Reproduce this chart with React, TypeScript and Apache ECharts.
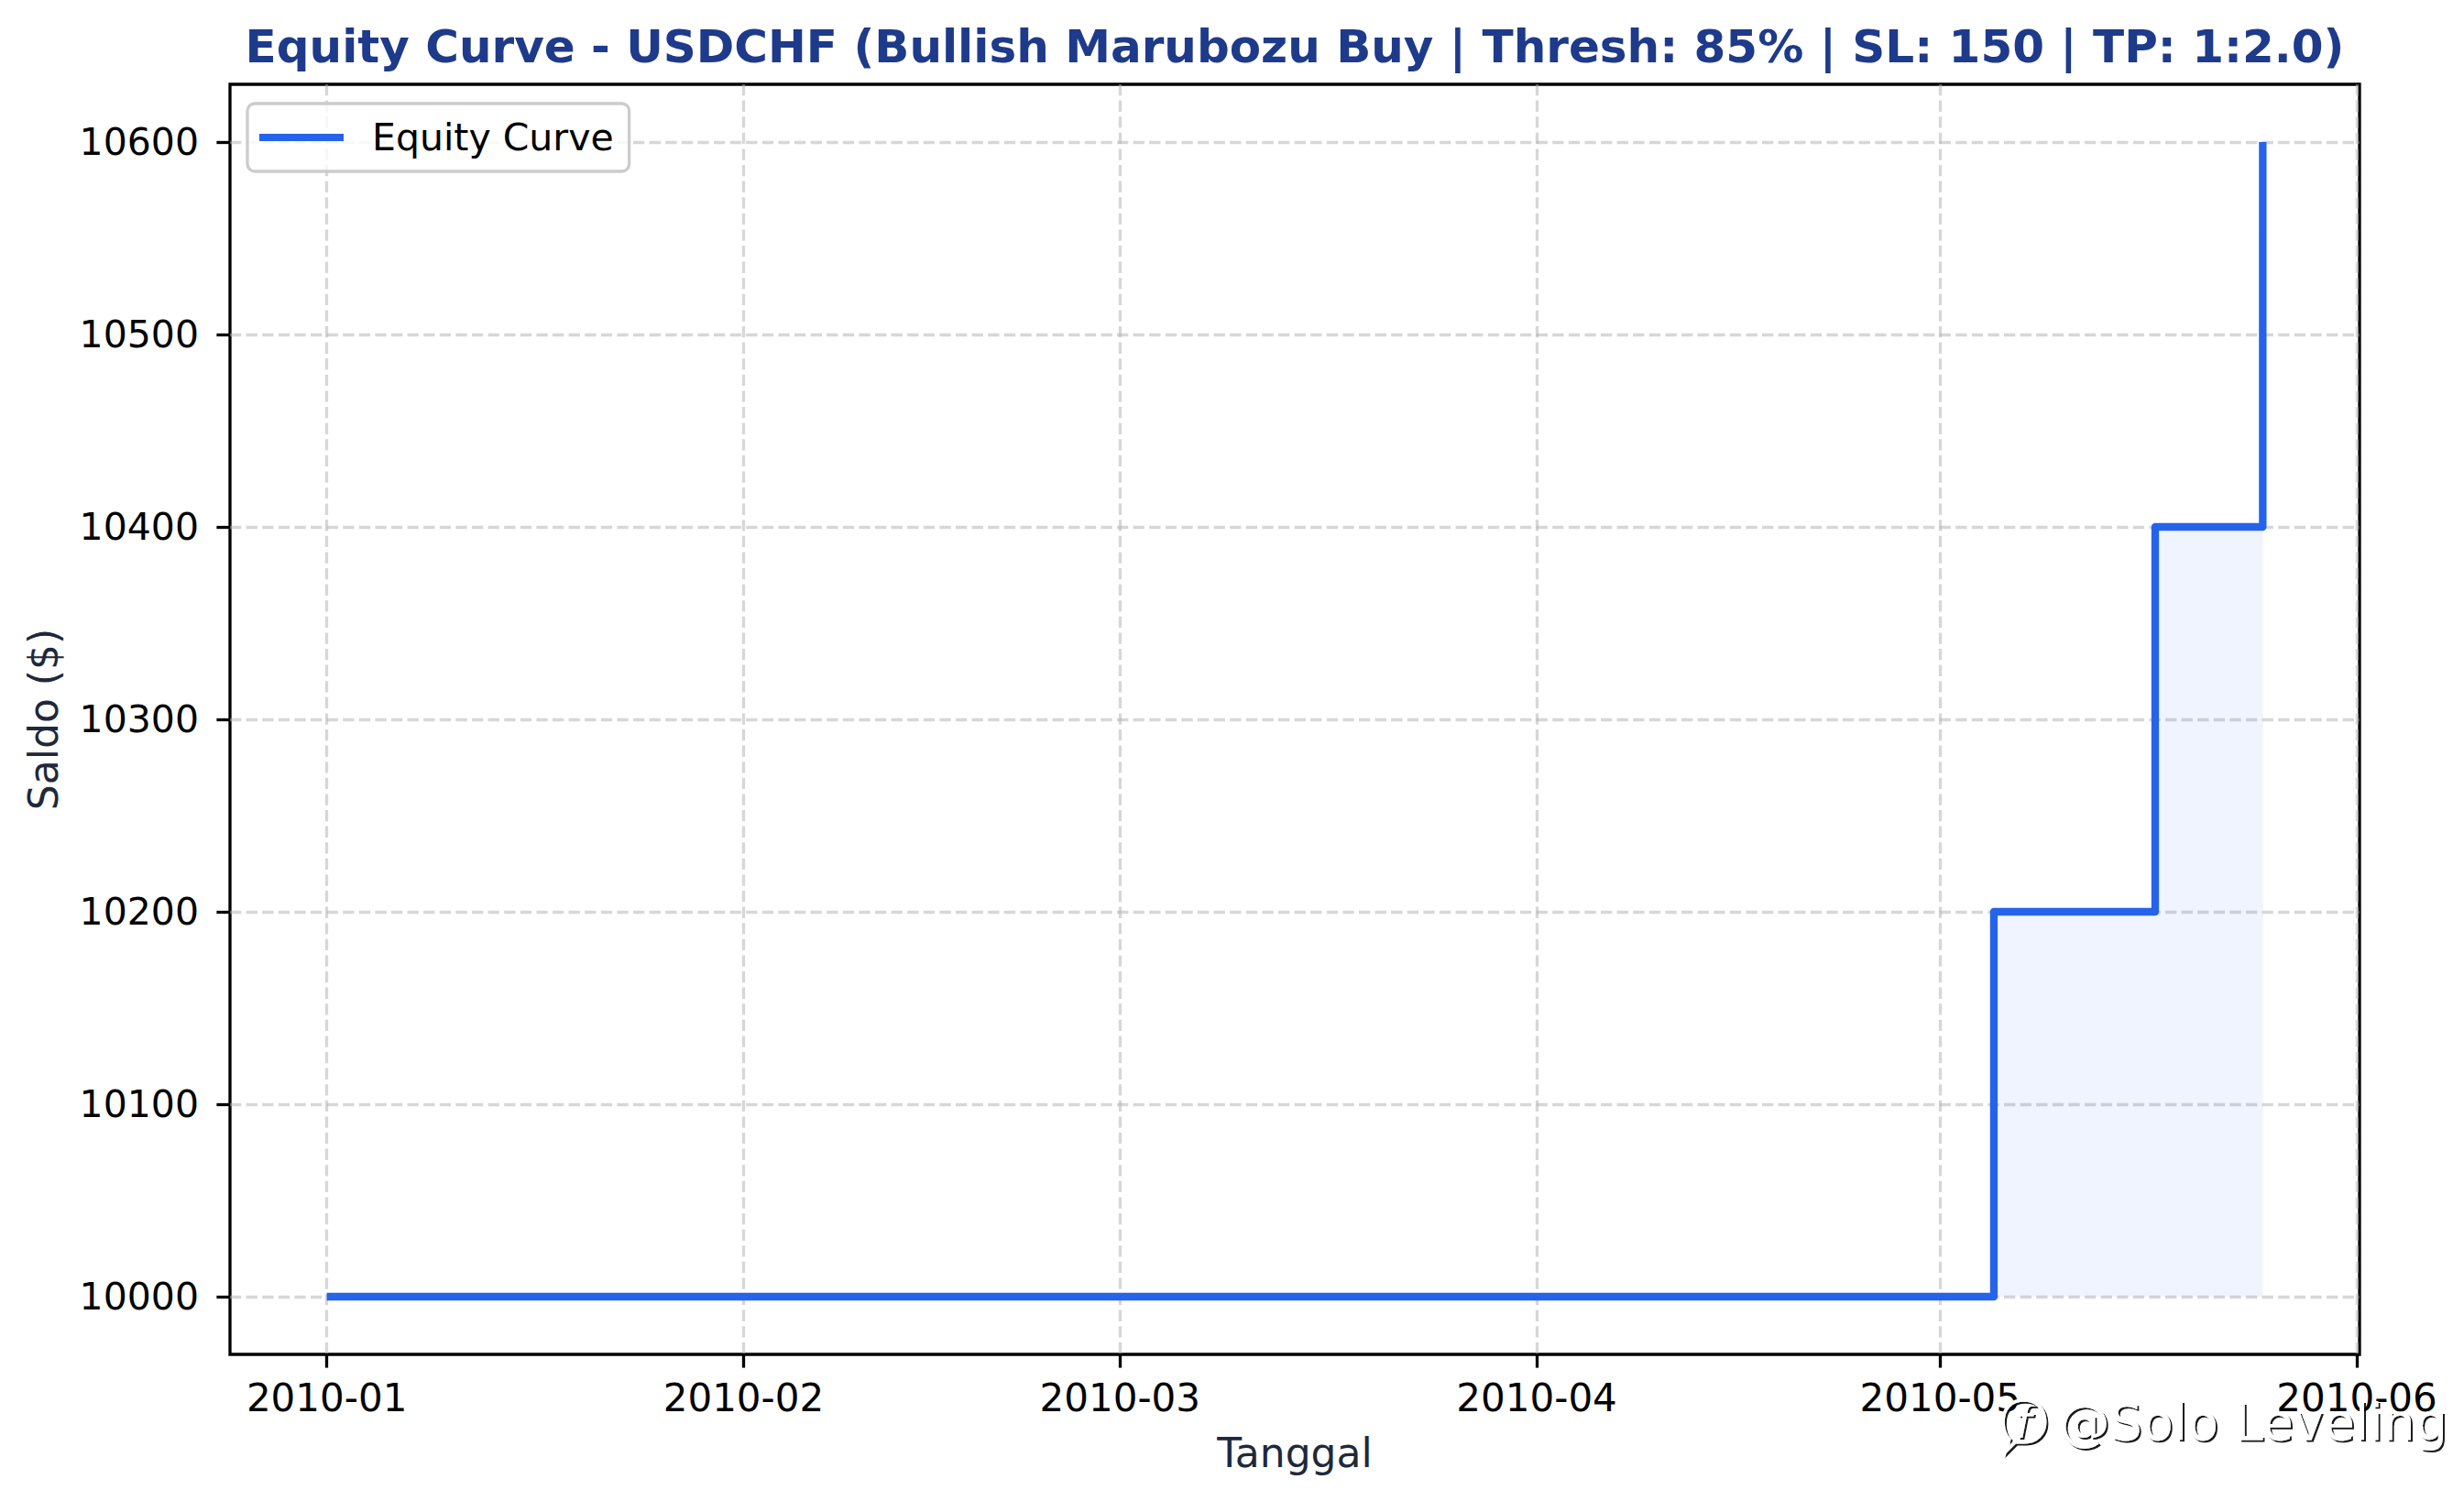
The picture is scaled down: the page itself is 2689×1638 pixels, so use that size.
import React, { useEffect, useRef } from "react";
import * as echarts from "echarts";

const TITLE = "Equity Curve - USDCHF (Bullish Marubozu Buy | Thresh: 85% | SL: 150 | TP: 1:2.0)";
const SERIES_NAME = "Equity Curve";
const X_NAME = "Tanggal";
const Y_NAME = "Saldo ($)";
const WATERMARK = "@Solo Leveling";

const dates = ["2010-01-01", "2010-05-05", "2010-05-17", "2010-05-25"];
const equity = [10000, 10200, 10400, 10600];
const initialBalance = 10000;

const monthTicks = ["2010-01-01", "2010-02-01", "2010-03-01", "2010-04-01", "2010-05-01", "2010-06-01"];
const yTicks = [10000, 10100, 10200, 10300, 10400, 10500, 10600];

const ts = (s: string) => new Date(s + "T00:00:00Z").getTime();

const FONT = "DejaVu Sans";

let registered = false;
function registerLogo() {
  if (registered) return;
  const d =
    "M26 2 C41 2 50 12 50 27 C50 41 40 50 27 50 L16 50 L6 60 L9 47 C4 42 2 35 2 27 C2 12 11 2 26 2 Z";
  echarts.graphic.registerShape("logo", echarts.graphic.extendPath(d, {}) as any);
  registered = true;
}

export default function App() {
  const ref = useRef<HTMLDivElement>(null);

  useEffect(() => {
    if (!ref.current) return;
    let logoOk = true;
    try {
      registerLogo();
    } catch (e) {
      logoOk = false;
    }
    const chart = echarts.init(ref.current, undefined, { renderer: "svg" });

    const xs = dates.map(ts);
    const xSpan = xs[xs.length - 1] - xs[0];
    const xMin = xs[0] - 0.05 * xSpan;
    const xMax = xs[xs.length - 1] + 0.05 * xSpan;
    const yLo = Math.min(...equity);
    const yHi = Math.max(...equity);
    const ySpan = yHi - yLo;
    const yMin = yLo - 0.05 * ySpan;
    const yMax = yHi + 0.05 * ySpan;

    const monthVals = monthTicks.map(ts);

    const gridSplit = {
      show: true,
      lineStyle: { color: "#b0b0b0", opacity: 0.5, width: 3.3, type: [12.3, 5.3] as any },
    };

    const shadow = {
      textShadowColor: "rgba(0,0,0,0.9)",
      textShadowOffsetX: 2,
      textShadowOffsetY: 2,
      textShadowBlur: 1,
    };

    const graphics: any[] = [
      {
        type: "text",
        x: 1413,
        y: 51,
        style: {
          text: TITLE,
          fill: "#1e3a8a",
          fontSize: 50,
          fontWeight: "bold",
          fontFamily: FONT,
          align: "center",
          verticalAlign: "middle",
        },
      },
      {
        type: "text",
        x: 2247,
        y: 1551,
        z: 100,
        style: {
          text: WATERMARK,
          fill: "#ffffff",
          fontSize: 55.5,
          fontFamily: FONT,
          align: "left",
          verticalAlign: "middle",
          ...shadow,
        },
      },
      {
        type: "text",
        x: 2208,
        y: 1552,
        z: 100,
        style: {
          text: "f",
          fill: "#ffffff",
          fontSize: 50,
          fontStyle: "italic",
          fontFamily: FONT,
          align: "center",
          verticalAlign: "middle",
          ...shadow,
        },
      },
    ];
    if (logoOk) {
      graphics.push({
        type: "logo",
        x: 2184,
        y: 1526,
        scaleX: 0.95,
        scaleY: 0.95,
        z: 100,
        style: {
          fill: "none",
          stroke: "#ffffff",
          lineWidth: 4,
          shadowColor: "rgba(0,0,0,0.9)",
          shadowOffsetX: 2,
          shadowOffsetY: 2,
          shadowBlur: 1,
        },
      });
    }

    chart.setOption({
      animation: false,
      backgroundColor: "#ffffff",
      grid: {
        left: 251,
        top: 92,
        width: 2324,
        height: 1386,
        show: true,
        borderColor: "#000000",
        borderWidth: 3.3,
        backgroundColor: "transparent",
      },
      legend: {
        left: 270,
        top: 113,
        selectedMode: false,
        data: [{ name: SERIES_NAME, icon: "rect" }],
        itemWidth: 92,
        itemHeight: 8,
        padding: [16, 17, 16, 13],
        backgroundColor: "rgba(255,255,255,0.8)",
        borderColor: "#cccccc",
        borderWidth: 3.3,
        borderRadius: 8,
        textStyle: {
          fontSize: 41,
          fontFamily: FONT,
          color: "#000000",
          lineHeight: 42,
          padding: [0, 0, 0, 26],
        },
      },
      xAxis: {
        type: "value",
        min: xMin,
        max: xMax,
        axisLine: { show: false },
        axisTick: {
          show: true,
          length: 14.6,
          lineStyle: { color: "#000", width: 3.3 },
          customValues: monthVals,
        },
        axisLabel: {
          customValues: monthVals,
          fontSize: 42,
          fontFamily: FONT,
          color: "#000",
          margin: 26,
          hideOverlap: false,
          formatter: (v: number) => {
            const d = new Date(v);
            return d.getUTCFullYear() + "-" + String(d.getUTCMonth() + 1).padStart(2, "0");
          },
        },
        splitLine: gridSplit,
        name: X_NAME,
        nameLocation: "middle",
        nameGap: 85,
        nameTextStyle: { fontSize: 44, fontFamily: FONT, color: "#1e293b" },
      },
      yAxis: {
        type: "value",
        min: yMin,
        max: yMax,
        axisLine: { show: false },
        axisTick: {
          show: true,
          length: 14.6,
          lineStyle: { color: "#000", width: 3.3 },
          customValues: yTicks,
        },
        axisLabel: {
          customValues: yTicks,
          fontSize: 41,
          fontFamily: FONT,
          color: "#000",
          margin: 34,
          formatter: (v: number) => String(v),
        },
        splitLine: gridSplit,
        name: Y_NAME,
        nameLocation: "middle",
        nameGap: 182,
        nameTextStyle: { fontSize: 44, fontFamily: FONT, color: "#1e293b" },
      },
      series: [
        {
          name: SERIES_NAME,
          type: "line",
          step: "end",
          symbol: "none",
          data: xs.map((x, i) => [x, equity[i]]),
          lineStyle: { color: "#2563eb", width: 8.3, join: "round" },
          itemStyle: { color: "#2563eb" },
          areaStyle: { origin: initialBalance, color: "rgba(37,99,235,0.1)" },
          z: 3,
        },
      ],
      graphic: graphics,
    });

    return () => chart.dispose();
  }, []);

  return (
    <div
      ref={ref}
      style={{ position: "fixed", left: 0, top: 0, width: 2689, height: 1638 }}
    />
  );
}
